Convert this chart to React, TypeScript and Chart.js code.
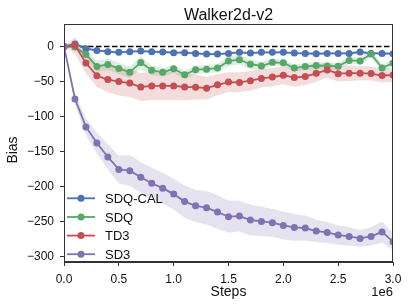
import React, { useEffect, useRef } from "react";
import { Chart, registerables } from "chart.js";

Chart.register(...registerables);

const steps = [0, 0.1, 0.2, 0.3, 0.4, 0.5, 0.6, 0.7, 0.8, 0.9, 1.0, 1.1, 1.2, 1.3, 1.4, 1.5, 1.6, 1.7, 1.8, 1.9, 2.0, 2.1, 2.2, 2.3, 2.4, 2.5, 2.6, 2.7, 2.8, 2.9, 3.0];

const seriesNames = ["SDQ-CAL", "SDQ", "TD3", "SD3"];
const seriesColors = ["#4C72B0", "#55A868", "#C44E52", "#8172B2"];
const bandColors = ["rgba(76,114,176,0.2)", "rgba(85,168,104,0.2)", "rgba(196,78,82,0.2)", "rgba(129,114,178,0.2)"];

const sdqCal = [0, 3.4, -3.3, -5.7, -7.6, -8.5, -7.6, -6.7, -7.6, -8, -9, -9, -10, -11, -11, -10, -8.5, -9.5, -8.5, -8.5, -8.5, -9.5, -10, -10.5, -10, -10, -10, -8, -10, -10, -10.5];
const sdq = [0, -1, -11.4, -28.6, -25.7, -31.4, -37, -22.9, -34, -37, -32, -40.5, -33.3, -32.5, -31, -21, -19, -25.5, -28, -22.7, -23.5, -31, -28.6, -27.3, -28, -28.3, -20, -20.8, -10.8, -30.8, -23.8];
const td3 = [0, 1.5, -23.8, -42, -47.3, -50.2, -52.4, -58, -56.5, -56.5, -56.5, -58, -58.3, -59.7, -54.9, -51, -51.4, -49, -45.8, -43.8, -41.2, -44.5, -43, -38.5, -33.6, -39, -38.3, -38.3, -38.8, -41.6, -41];
const sd3 = [0, -75, -115, -138, -158, -175.7, -177.6, -187, -195.5, -202.5, -211, -221.7, -227.8, -230.4, -236.7, -243.3, -242.4, -248, -250, -251.9, -255.7, -258.6, -259.5, -263.8, -265.7, -269.5, -271.4, -274.3, -271.4, -265, -279];

const sdqCalStd = [0, 2, 2, 2, 2, 2, 2, 2, 2, 2, 2, 2, 2, 2, 2, 2, 2, 2, 2, 2, 2, 2, 2, 2, 2, 2, 2, 2, 2, 2, 2];
const sdqStd = [0, 2, 5, 8, 8, 8, 8, 9, 7, 6, 6, 6, 6, 6, 6, 7, 7, 7, 6, 5, 5, 5, 5, 5, 5, 5, 5, 5, 5, 5, 5];
const td3Std = [0, 12, 15, 16, 18, 20, 20, 20, 20, 20, 20, 19, 18, 16, 15, 14, 14, 14, 13, 13, 13, 13, 12, 12, 11, 11, 11, 10, 10, 10, 10];
const sd3Std = [0, 8, 12, 15, 18, 20, 22, 22, 22, 22, 22, 23, 23, 24, 24, 23, 22, 22, 21, 20, 20, 19, 18, 16, 15, 14, 13, 12, 13, 15, 12];

const xTicks = [0, 0.5, 1.0, 1.5, 2.0, 2.5, 3.0];
const yTicks = [-300, -250, -200, -150, -100, -50, 0];

const FONT = "'Liberation Sans', Arial, Helvetica, sans-serif";

export default function App() {
  const ref = useRef<HTMLCanvasElement | null>(null);

  useEffect(() => {
    document.body.style.margin = "0";
    const canvas = ref.current;
    if (!canvas) return;

    const means = [sdqCal, sdq, td3, sd3];
    const stds = [sdqCalStd, sdqStd, td3Std, sd3Std];

    const datasets: any[] = [];
    means.forEach((m, i) => {
      datasets.push({
        label: seriesNames[i] + " upper",
        data: steps.map((x, k) => ({ x, y: m[k] + stds[i][k] })),
        borderWidth: 0,
        pointRadius: 0,
        fill: false,
        order: 100 - i * 2,
      });
      datasets.push({
        label: seriesNames[i] + " lower",
        data: steps.map((x, k) => ({ x, y: m[k] - stds[i][k] })),
        borderWidth: 0,
        pointRadius: 0,
        fill: "-1",
        backgroundColor: bandColors[i],
        order: 99 - i * 2,
      });
    });
    datasets.push({
      label: "zero",
      data: [{ x: 0, y: 0 }, { x: 3, y: 0 }],
      borderColor: "#000",
      borderWidth: 1.5,
      borderDash: [5.5, 2.5],
      pointRadius: 0,
      fill: false,
      order: 50,
    });
    means.forEach((m, i) => {
      datasets.push({
        label: seriesNames[i],
        data: steps.map((x, k) => ({ x, y: m[k] })),
        borderColor: seriesColors[i],
        backgroundColor: seriesColors[i],
        borderWidth: 1.8,
        pointRadius: 3.5,
        pointBorderWidth: 0,
        pointBackgroundColor: seriesColors[i],
        fill: false,
        order: 40 - i,
      });
    });

    const deco = {
      id: "deco",
      afterDraw(chart: any) {
        const ctx = chart.ctx;
        const a = chart.chartArea;
        ctx.save();
        ctx.strokeStyle = "#333";
        ctx.lineWidth = 1;
        ctx.strokeRect(a.left + 0.5, a.top + 0.5, a.right - a.left - 1, a.bottom - a.top - 1);

        ctx.fillStyle = "#111";
        ctx.textAlign = "center";
        ctx.textBaseline = "alphabetic";
        ctx.font = `16px ${FONT}`;
        ctx.fillText("Walker2d-v2", (a.left + a.right) / 2, 20);

        ctx.font = `14px ${FONT}`;
        ctx.fillText("Steps", (a.left + a.right) / 2, 296);

        ctx.save();
        ctx.translate(17, 150);
        ctx.rotate(-Math.PI / 2);
        ctx.fillText("Bias", 0, 0);
        ctx.restore();

        ctx.textAlign = "right";
        ctx.font = `13px ${FONT}`;
        ctx.fillText("1e6", a.right, 296);

        const rowY = [198.3, 217, 235.6, 254.2];
        ctx.font = `13px ${FONT}`;
        ctx.textAlign = "left";
        seriesNames.forEach((name, i) => {
          const y = rowY[i];
          ctx.strokeStyle = seriesColors[i];
          ctx.lineWidth = 1.8;
          ctx.beginPath();
          ctx.moveTo(67, y);
          ctx.lineTo(95, y);
          ctx.stroke();
          ctx.fillStyle = seriesColors[i];
          ctx.beginPath();
          ctx.arc(81, y, 3.5, 0, Math.PI * 2);
          ctx.fill();
          ctx.fillStyle = "#111";
          ctx.fillText(name, 105, y + 4.7);
        });
        ctx.restore();
      },
    };

    const chart = new Chart(canvas, {
      type: "line",
      data: { datasets },
      options: {
        animation: false,
        responsive: false,
        maintainAspectRatio: false,
        layout: { padding: { top: 24, right: 17, left: 0, bottom: 0 } },
        plugins: {
          legend: { display: false },
          tooltip: { enabled: false },
          title: { display: false },
        },
        scales: {
          x: {
            type: "linear",
            min: 0,
            max: 3,
            afterBuildTicks: (s: any) => {
              s.ticks = xTicks.map((v) => ({ value: v }));
            },
            afterFit: (s: any) => {
              s.height = 46;
            },
            ticks: {
              callback: (v: any) => Number(v).toFixed(1),
              font: { family: FONT, size: 12 },
              color: "#111",
              padding: 6,
              maxRotation: 0,
              autoSkip: false,
            },
            grid: { drawOnChartArea: false, drawTicks: true, tickLength: 4, color: "#333" },
            border: { display: true, color: "#333" },
          },
          y: {
            type: "linear",
            min: -308,
            max: 32,
            afterBuildTicks: (s: any) => {
              s.ticks = yTicks.map((v) => ({ value: v }));
            },
            afterFit: (s: any) => {
              s.width = 64;
            },
            ticks: {
              callback: (v: any) => (v < 0 ? "\u2212" + Math.abs(v) : String(v)),
              font: { family: FONT, size: 12 },
              color: "#111",
              padding: 6,
              autoSkip: false,
            },
            grid: { drawOnChartArea: false, drawTicks: true, tickLength: 4, color: "#333" },
            border: { display: true, color: "#333" },
          },
        },
      },
      plugins: [deco],
    });

    return () => chart.destroy();
  }, []);

  return <canvas ref={ref} width={410} height={308} style={{ display: "block", width: 410, height: 308 }} />;
}
